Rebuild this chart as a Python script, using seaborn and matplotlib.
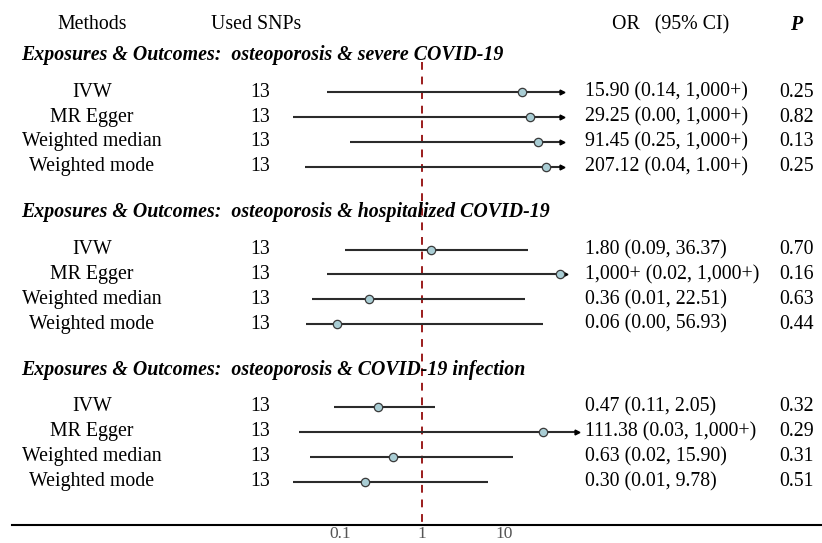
import numpy as np
import pandas as pd
import seaborn as sns
from matplotlib import pyplot as plt

# --- data -------------------------------------------------------------------
sections = [
    "Exposures & Outcomes:  osteoporosis & severe COVID-19",
    "Exposures & Outcomes:  osteoporosis & hospitalized COVID-19",
    "Exposures & Outcomes:  osteoporosis & COVID-19 infection",
]
methods = ["IVW", "MR Egger", "Weighted median", "Weighted mode"]
snps = [13, 13, 13, 13]

# plotted OR / CI positions as drawn on the log axis (per section, per method)
or_est = [
    [16.6, 20.7, 26.0, 32.5],
    [1.29, 48.2, 0.226, 0.0919],
    [0.291, 29.9, 0.443, 0.202],
]
ci_low = [
    [0.0694, 0.0267, 0.132, 0.0374],
    [0.115, 0.0694, 0.0456, 0.0385],
    [0.0845, 0.0316, 0.0431, 0.0267],
]
ci_high = [
    [51.0, 51.0, 51.0, 51.0],
    [19.6, 55.5, 18.0, 29.9],
    [1.44, 77.6, 12.9, 6.38],
]
truncated = [
    [True, True, True, True],
    [False, True, False, False],
    [False, True, False, False],
]
or_text = [
    ["15.90 (0.14, 1,000+)", "29.25 (0.00, 1,000+)", "91.45 (0.25, 1,000+)", "207.12 (0.04, 1.00+)"],
    ["1.80 (0.09, 36.37)", "1,000+ (0.02, 1,000+)", "0.36 (0.01, 22.51)", "0.06 (0.00, 56.93)"],
    ["0.47 (0.11, 2.05)", "111.38 (0.03, 1,000+)", "0.63 (0.02, 15.90)", "0.30 (0.01, 9.78)"],
]
p_text = [
    ["0.25", "0.82", "0.13", "0.25"],
    ["0.70", "0.16", "0.63", "0.44"],
    ["0.32", "0.29", "0.31", "0.51"],
]
x_ticks = [0.1, 1, 10]
x_tick_labels = ["0.1", "1", "10"]

# --- layout -------------------------------------------------------------------
sns.set_style("white")
plt.rcParams["font.family"] = ["Liberation Serif", "DejaVu Serif"]
plt.rcParams["text.color"] = "black"

rows = []
for s, title in enumerate(sections):
    top = 2.2 + 6.32 * s
    for r, m in enumerate(methods):
        rows.append(dict(section=s, method=m, y=top + 1.5 + r, snp=snps[r],
                         est=or_est[s][r], lo=ci_low[s][r], hi=ci_high[s][r],
                         trunc=truncated[s][r], ortxt=or_text[s][r], p=p_text[s][r]))
df = pd.DataFrame(rows)

fig = plt.figure(figsize=(8.22, 5.43), dpi=100)
ax = fig.add_axes([12 / 822, 18 / 543, 810 / 822, 525 / 543])
ax.set_xscale("log")
ax.set_xlim(1e-5, 10 ** 4.878)
ax.set_ylim(21.08, 0)

# reference line at OR = 1
ax.vlines(1, 2.5, 21.08, color="#9b1c1c", linestyle=(0, (4, 3.5)), linewidth=1.4, zorder=1)

# confidence intervals
line_col = "#2b2b2b"
for _, r in df.iterrows():
    ax.hlines(r.y, r.lo, r.hi, color=line_col, linewidth=1.5, zorder=2)
arr = df[df.trunc]
ax.plot(arr.hi, arr.y, linestyle="none", marker=">", markersize=3.5,
        color="black", zorder=3)

# point estimates
sns.scatterplot(data=df, x="est", y="y", ax=ax, s=36, color="#a9cdd4",
                edgecolor="#3a3a3a", linewidth=0.9, zorder=4, legend=False)

# text columns
tr = ax.get_yaxis_transform()
fs = 14.3
ax.text(0.0988, 1.0, "Methods", transform=tr, ha="center", va="center", fontsize=fs)
ax.text(0.302, 1.0, "Used SNPs", transform=tr, ha="center", va="center", fontsize=fs)
ax.text(0.8136, 1.0, "OR   (95% CI)", transform=tr, ha="center", va="center", fontsize=fs)
ax.text(0.968, 1.0, "P", transform=tr, ha="center", va="center", fontsize=fs,
        fontweight="bold", fontstyle="italic")
for s, title in enumerate(sections):
    ax.text(0.0111, 2.2 + 6.32 * s, title, transform=tr, ha="left", va="center",
            fontsize=fs, fontweight="bold", fontstyle="italic")
for _, r in df.iterrows():
    ax.text(0.0988, r.y, r.method, transform=tr, ha="center", va="center", fontsize=fs)
    ax.text(0.306, r.y, str(r.snp), transform=tr, ha="center", va="center", fontsize=fs)
    ax.text(0.7074, r.y, r.ortxt, transform=tr, ha="left", va="center", fontsize=fs)
    ax.text(0.968, r.y, r.p, transform=tr, ha="center", va="center", fontsize=fs)

# axis styling
for side in ["top", "left", "right"]:
    ax.spines[side].set_visible(False)
ax.spines["bottom"].set_color("black")
ax.spines["bottom"].set_linewidth(1.5)
ax.set_xticks(x_ticks)
ax.set_xticklabels(x_tick_labels)
ax.minorticks_off()
ax.tick_params(axis="x", length=0, pad=1, labelsize=12.5, labelcolor="#555555")
ax.set_yticks([])
ax.set_xlabel("")
ax.set_ylabel("")

fig.savefig("out.png", dpi=100)
